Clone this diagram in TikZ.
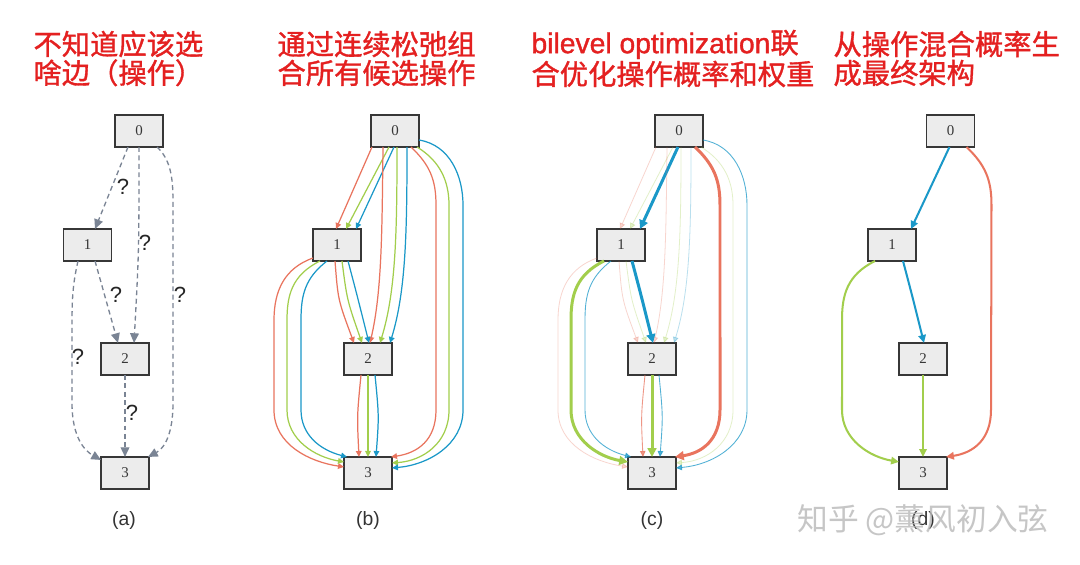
\documentclass[tikz,border=0pt]{standalone}
\usepackage{fontspec}
\setmainfont{Liberation Serif}
\newfontfamily\cjkfont{Noto Sans CJK SC}
\newfontfamily\headfont[FakeBold=1.2]{Noto Sans CJK SC}
\newfontfamily\headlatin[FakeBold=1.2]{Liberation Sans}
\newfontfamily\arialfont{Liberation Sans}
\usepackage{xcolor}
\usepackage{tikz}
\usetikzlibrary{arrows.meta}
\usetikzlibrary{calc}
\usetikzlibrary{positioning}

\definecolor{titlered}{RGB}{228,32,32}
\definecolor{opred}{RGB}{233,116,94}
\definecolor{opgreen}{RGB}{162,206,76}
\definecolor{opblue}{RGB}{26,152,200}
\definecolor{dashgray}{RGB}{122,132,148}
\definecolor{boxfill}{RGB}{236,236,236}
\definecolor{boxline}{RGB}{55,55,55}

% #1 cell prefix, #2 kept ops, #3 second ops, #4 the rest
\newcommand{\celledges}[4]{%
  % 0 -> 1
  \draw[redop,#4] ($(#10)+(-23,16)$) -- ($(#11)+(-1,-16)$);
  \draw[greenop,#4] ($(#10)+(-6,16)$) -- ($(#11)+(9,-16)$);
  \draw[blueop,#2] ($(#10)+(-1,16)$) -- ($(#11)+(19,-16)$);
  % 0 -> 2
  \draw[redop,#4] ($(#10)+(-12,16)$) .. controls ($(#10)+(-13,100)$) and ($(#10)+(-13,160)$) .. ($(#12)+(2,-16)$);
  \draw[greenop,#4] ($(#10)+(2,16)$) .. controls ($(#10)+(2,100)$) and ($(#10)+(1,160)$) .. ($(#12)+(12,-16)$);
  \draw[blueop,#4] ($(#10)+(12,16)$) .. controls ($(#10)+(12,100)$) and ($(#10)+(11,160)$) .. ($(#12)+(22,-16)$);
  % 0 -> 3
  \draw[redop,#2] ($(#10)+(16,16)$) .. controls ($(#10)+(35,34)$) and ($(#10)+(41,49)$) .. ($(#10)+(41,74)$)
     -- ($(#13)+(68,-63)$) .. controls ($(#13)+(68,-33)$) and ($(#13)+(50,-20)$) .. ($(#13)+(23,-16)$);
  \draw[greenop,#4] ($(#10)+(22,16)$) .. controls ($(#10)+(45,30)$) and ($(#10)+(54,50)$) .. ($(#10)+(54,74)$)
     -- ($(#13)+(81,-63)$) .. controls ($(#13)+(81,-30)$) and ($(#13)+(55,-12)$) .. ($(#13)+(24,-10)$);
  \draw[blueop,#3] ($(#10)+(24,9)$) .. controls ($(#10)+(55,14)$) and ($(#10)+(68,45)$) .. ($(#10)+(68,74)$)
     -- ($(#13)+(95,-63)$) .. controls ($(#13)+(95,-28)$) and ($(#13)+(60,-8)$) .. ($(#13)+(24,-5)$);
  % 1 -> 2
  \draw[redop,#4] ($(#11)+(-2,16)$) .. controls ($(#11)+(1,55)$) .. ($(#12)+(-14,-16)$);
  \draw[greenop,#4] ($(#11)+(5,16)$) .. controls ($(#11)+(10,55)$) .. ($(#12)+(-6,-16)$);
  \draw[blueop,#2] ($(#11)+(11,16)$) .. controls ($(#11)+(20,50)$) .. ($(#12)+(1,-16)$);
  % 1 -> 3
  \draw[redop,#4] ($(#11)+(-24,13)$) .. controls ($(#11)+(-52,23)$) and ($(#11)+(-63,45)$) .. ($(#11)+(-63,75)$)
     -- ($(#13)+(-94,-63)$) .. controls ($(#13)+(-94,-28)$) and ($(#13)+(-58,-11)$) .. ($(#13)+(-24,-6)$);
  \draw[greenop,#2] ($(#11)+(-17,16)$) .. controls ($(#11)+(-45,30)$) and ($(#11)+(-50,50)$) .. ($(#11)+(-50,75)$)
     -- ($(#13)+(-81,-63)$) .. controls ($(#13)+(-81,-33)$) and ($(#13)+(-53,-16)$) .. ($(#13)+(-24,-11)$);
  \draw[blueop,#3] ($(#11)+(-10,16)$) .. controls ($(#11)+(-32,33)$) and ($(#11)+(-36,50)$) .. ($(#11)+(-36,75)$)
     -- ($(#13)+(-67,-63)$) .. controls ($(#13)+(-67,-38)$) and ($(#13)+(-48,-23)$) .. ($(#13)+(-21,-16)$);
  % 2 -> 3
  \draw[redop,#3] ($(#12)+(-7,16)$) .. controls ($(#12)+(-11,57)$) .. ($(#13)+(-9,-16)$);
  \draw[greenop,#2] ($(#12)+(0,16)$) -- ($(#13)+(0,-16)$);
  \draw[blueop,#3] ($(#12)+(7,16)$) .. controls ($(#12)+(11,57)$) .. ($(#13)+(8,-16)$);
}

\begin{document}
\begin{tikzpicture}[x=0.02cm, y=-0.02cm, node distance=2.28cm, semithick]
  \tikzstyle{box}=[draw=boxline, line width=0.85pt, fill=boxfill, rectangle, minimum width=0.96cm, minimum height=0.64cm, inner sep=0pt, text=boxline, font=\fontsize{8.5}{8.5}\selectfont]
  \tikzstyle{headline}=[text=titlered, font=\headfont\fontsize{16.1}{16.4}\selectfont, align=left, inner sep=0pt, anchor=west]
  \tikzstyle{panelcap}=[text=black!80, font=\arialfont\fontsize{11}{11}\selectfont]
  \tikzstyle{qmark}=[text=black!85, font=\arialfont\fontsize{12.5}{12.5}\selectfont, inner sep=0pt]
  \tikzstyle{guess}=[draw=dashgray, line width=0.75pt, dash pattern=on 2.8pt off 2pt, -{Triangle[length=5.5pt,width=5pt]}]
  \tikzstyle{redop}=[draw=opred, line width=0.7pt, -{Triangle[length=3.4pt,width=3.2pt]}]
  \tikzstyle{greenop}=[draw=opgreen, line width=0.7pt, -{Triangle[length=3.4pt,width=3.2pt]}]
  \tikzstyle{blueop}=[draw=opblue, line width=0.7pt, -{Triangle[length=3.4pt,width=3.2pt]}]
  \tikzstyle{opstrong}=[line width=1.7pt, -{Triangle[length=5pt,width=5pt]}]
  \tikzstyle{opmid}=[line width=0.5pt, opacity=0.75]
  \tikzstyle{opfaint}=[line width=0.45pt, opacity=0.3]
  \tikzstyle{oppicked}=[line width=1.15pt, -{Triangle[length=4.5pt,width=4.2pt]}]
  \tikzstyle{ophidden}=[draw=none]

  \fill[white] (0,0) rectangle (1080,565);
  \useasboundingbox (0,0) rectangle (1080,565);

  % titles
  \node[headline] (ta) at (33,58.5) {不知道应该选\\啥边（操作）};
  \node[headline] (tb) at (277,58.5) {通过连续松弛组\\合所有候选操作};
  \node[headline] (tc) at (531,58.5) {{\headlatin bilevel optimization}联\\合优化操作概率和权重};
  \node[headline] (td) at (833,58.5) {从操作混合概率生\\成最终架构};

  % (a)
  \node[box] (a0) at (139,131) {0};
  \node[box] (a1) [below of=a0, xshift=-1.03cm] {1};
  \node[box] (a2) [below of=a1, xshift=0.75cm] {2};
  \node[box] (a3) [below of=a2] {3};

  \draw[guess] ($(a0)+(-11,16)$) -- ($(a1)+(7.5,-16)$);
  \draw[guess] ($(a0)+(0,16)$) .. controls ($(a0)+(0,120)$) .. ($(a2)+(9,-16)$);
  \draw[guess] ($(a0)+(18,16)$) .. controls ($(a0)+(31,28)$) and ($(a0)+(34,45)$) .. ($(a0)+(34,70)$)
     -- ($(a3)+(48,-70)$) .. controls ($(a3)+(48,-40)$) and ($(a3)+(40,-25)$) .. ($(a3)+(23,-16)$);
  \draw[guess] ($(a1)+(7.5,16)$) -- ($(a2)+(-7,-16)$);
  \draw[guess] ($(a1)+(-9.5,16)$) .. controls ($(a1)+(-15,40)$) and ($(a1)+(-15.5,55)$) .. ($(a1)+(-15.5,80)$)
     -- ($(a3)+(-53,-70)$) .. controls ($(a3)+(-53,-35)$) and ($(a3)+(-40,-22)$) .. ($(a3)+(-24,-13)$);
  \draw[guess] ($(a2)+(0,16)$) -- ($(a3)+(0,-16)$);

  \node[qmark] (q01) at (123,187) {?};
  \node[qmark] (q02) at (145,243) {?};
  \node[qmark] (q03) at (180,295) {?};
  \node[qmark] (q12) at (116,295) {?};
  \node[qmark] (q13) at (78,357) {?};
  \node[qmark] (q23) at (132,413) {?};

  % (b)
  \node[box] (b0) at (395,131) {0};
  \node[box] (b1) [below of=b0, xshift=-1.16cm] {1};
  \node[box] (b2) [below of=b1, xshift=0.62cm] {2};
  \node[box] (b3) [below of=b2] {3};
  \celledges{b}{}{}{}

  % (c)
  \node[box] (c0) at (679,131) {0};
  \node[box] (c1) [below of=c0, xshift=-1.16cm] {1};
  \node[box] (c2) [below of=c1, xshift=0.62cm] {2};
  \node[box] (c3) [below of=c2] {3};
  \celledges{c}{opstrong}{opmid}{opfaint}

  % (d)
  \node[box] (d0) at (950.5,131) {0};
  \node[box] (d1) [below of=d0, xshift=-1.17cm] {1};
  \node[box] (d2) [below of=d1, xshift=0.62cm] {2};
  \node[box] (d3) [below of=d2] {3};
  \celledges{d}{oppicked}{ophidden}{ophidden}

  % captions
  \node[panelcap] (capa) at (124,520) {(a)};
  \node[panelcap] (capb) at (368,520) {(b)};
  \node[panelcap] (capc) at (652,520) {(c)};
  \node[panelcap] (capd) at (923,520) {(d)};
  \node[text=black!28, opacity=0.8, font=\cjkfont\fontsize{17.5}{17.5}\selectfont] (mark) at (923,520) {知乎 @薰风初入弦};
\end{tikzpicture}
\end{document}
